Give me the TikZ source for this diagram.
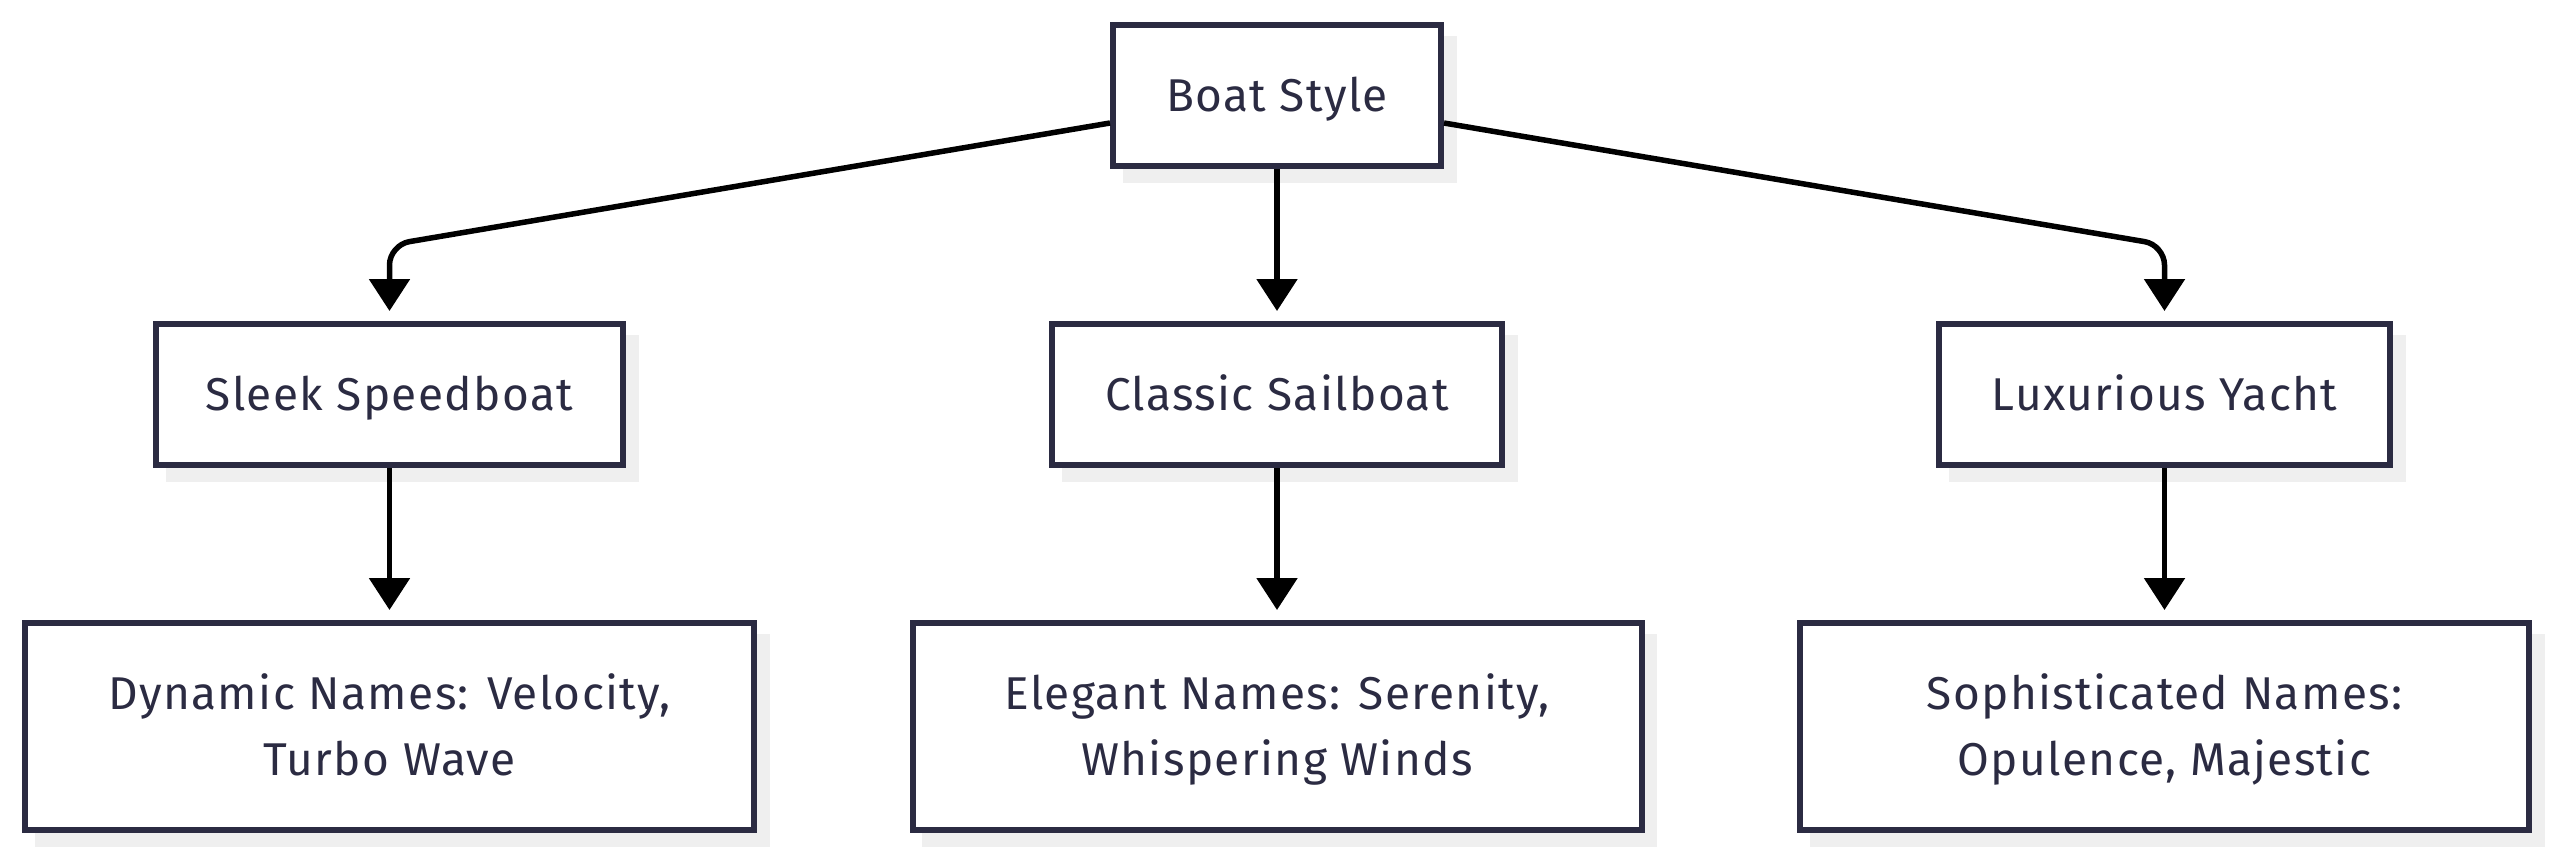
\documentclass[tikz,border=0pt]{standalone}
\usepackage{fontspec}
\setmainfont{Fira Sans}[LetterSpace=3]
\usetikzlibrary{arrows.meta,shadows}
\definecolor{ink}{HTML}{2B2B42}
\definecolor{shadowgray}{HTML}{EFEFEF}
\newcommand\twoline[2]{\begin{tabular}[t]{@{}c@{}}#1\\#2\end{tabular}}
\begin{document}
\begin{tikzpicture}[x=0.5pt,y=-0.5pt,
  box/.style={draw=ink, line width=3pt, fill=white, text=ink, inner sep=0pt,
    font=\fontsize{23}{33}\selectfont,
    general shadow={shadow xshift=6.25pt, shadow yshift=-6.75pt, fill=shadowgray, draw=shadowgray, line width=3pt}},
  onebox/.style={box, text height=15.5pt, text depth=0pt, minimum height=70.5pt},
  twobox/.style={box, text height=15.5pt, text depth=33pt, minimum height=103.5pt, minimum width=364.5pt},
  arr/.style={draw=black, line width=2.75pt, -{Triangle[width=20pt,length=16pt]}, shorten >=5pt}
]
\useasboundingbox (0,0) rectangle (2560,858);
\node[onebox, minimum width=164pt] (top) at (1277,95.5) {Boat Style};
\node[onebox, minimum width=233.5pt] (sleek) at (389.5,394.5) {Sleek Speedboat};
\node[onebox, minimum width=225pt] (classic) at (1277,394.5) {Classic Sailboat};
\node[onebox, minimum width=225.5pt] (lux) at (2164.5,394.5) {Luxurious Yacht};
\node[twobox] (dyn) at (389.5,726.5) {\twoline{Dynamic Names: Velocity,}{Turbo Wave}};
\node[twobox] (ele) at (1277,726.5) {\twoline{Elegant Names: Serenity,}{Whispering Winds}};
\node[twobox] (sop) at (2164.5,726.5) {\twoline{Sophisticated Names:}{Opulence, Majestic}};
\draw[arr] (top.south) -- (classic.north);
\draw[arr, rounded corners=10pt] ([yshift=-13.75pt]top.west) -- (sleek.north |- {(0,245)}) -- (sleek.north);
\draw[arr, rounded corners=10pt] ([yshift=-13.75pt]top.east) -- (lux.north |- {(0,245)}) -- (lux.north);
\draw[arr] (sleek.south) -- (dyn.north);
\draw[arr] (classic.south) -- (ele.north);
\draw[arr] (lux.south) -- (sop.north);
\end{tikzpicture}
\end{document}
